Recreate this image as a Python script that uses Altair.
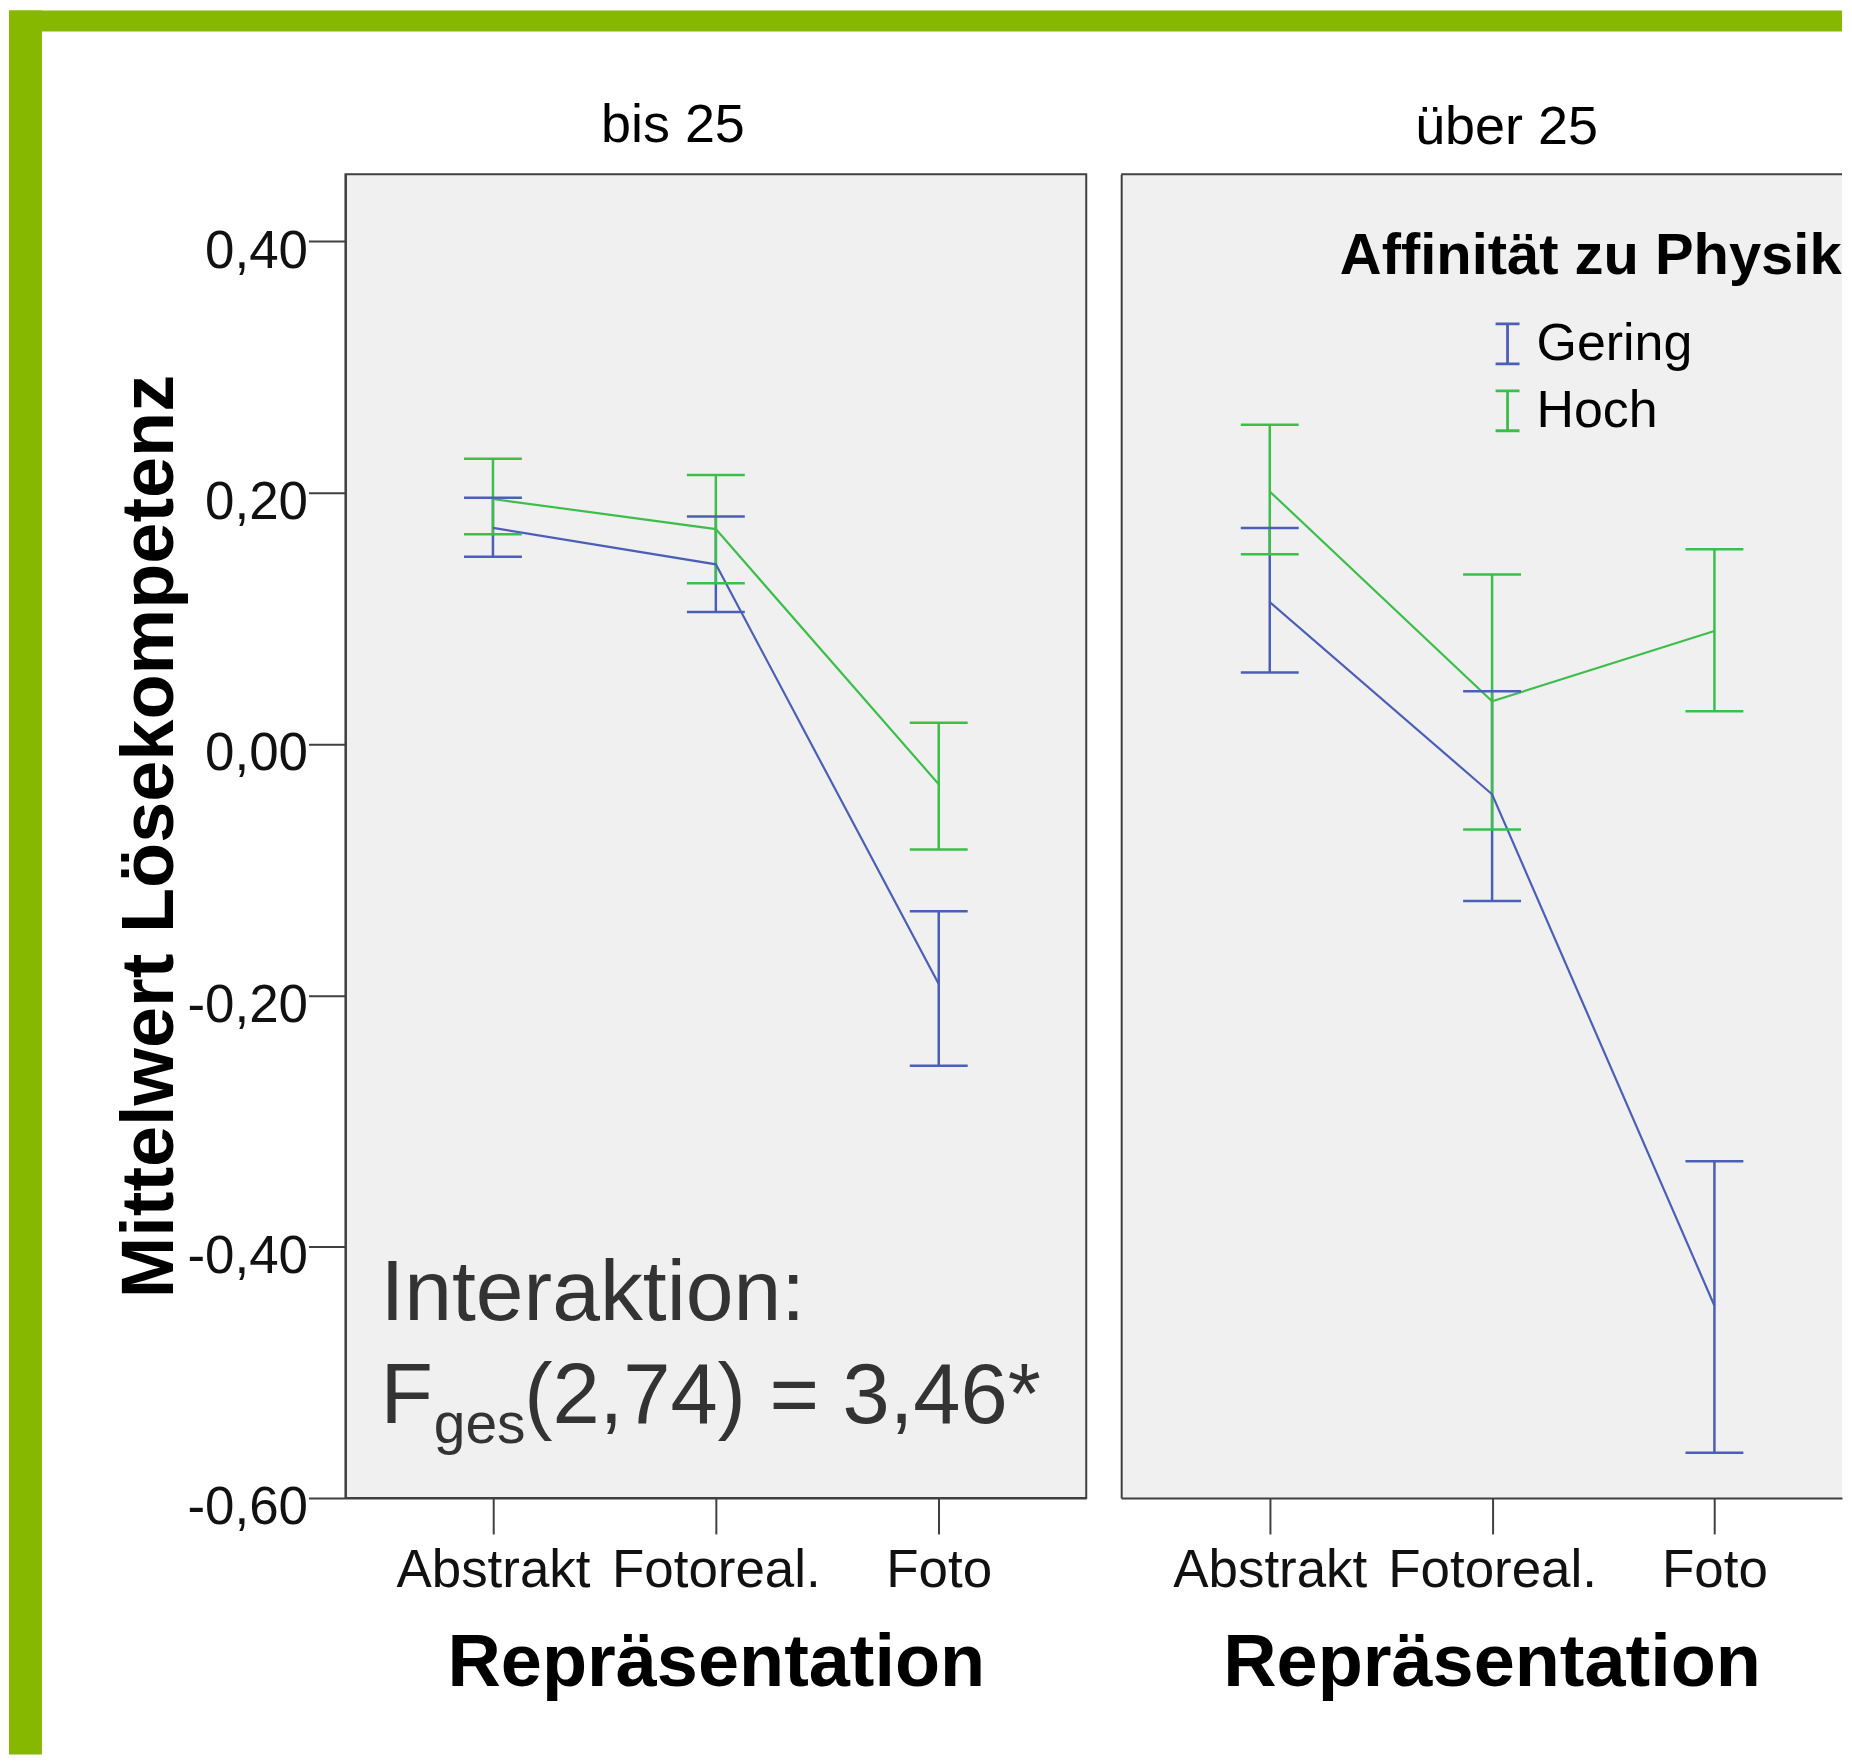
import altair as alt
import pandas as pd

# ---------------- data ----------------
CATEGORIES = ["Abstrakt", "Fotoreal.", "Foto"]
GROUPS = ["Gering", "Hoch"]
COLORS = ["#4A5FB5", "#3DBE4B"]

# Panel "bis 25"
BIS_GERING_MEAN = [0.172, 0.143, -0.191]
BIS_GERING_LO = [0.149, 0.105, -0.256]
BIS_GERING_HI = [0.196, 0.181, -0.133]
BIS_HOCH_MEAN = [0.195, 0.171, -0.032]
BIS_HOCH_LO = [0.167, 0.128, -0.084]
BIS_HOCH_HI = [0.227, 0.214, 0.017]

# Panel "über 25"
UEB_GERING_MEAN = [0.113, -0.040, -0.447]
UEB_GERING_LO = [0.057, -0.125, -0.564]
UEB_GERING_HI = [0.172, 0.042, -0.332]
UEB_HOCH_MEAN = [0.201, 0.034, 0.090]
UEB_HOCH_LO = [0.151, -0.068, 0.026]
UEB_HOCH_HI = [0.254, 0.135, 0.155]

Y_TICKS = [-0.6, -0.4, -0.2, 0.0, 0.2, 0.4]
Y_TICK_LABELS = ["-0,60", "-0,40", "-0,20", "0,00", "0,20", "0,40"]
Y_MIN, Y_MAX = -0.6, 0.4535

PANEL_TITLES = ["bis 25", "über 25"]
Y_TITLE = "Mittelwert Lösekompetenz"
X_TITLE = "Repräsentation"
LEGEND_TITLE = "Affinität zu Physik"
ANNOT_LINE1 = "Interaktion:"
ANNOT_F = "F"
ANNOT_SUB = "ges"
ANNOT_REST = "(2,74) = 3,46*"

FONT = "Liberation Sans"
GREEN = "#87B800"
FRAME = "#404040"


def build_df(gm, glo, ghi, hm, hlo, hhi):
    rows = []
    for grp, m, lo, hi in [("Gering", gm, glo, ghi), ("Hoch", hm, hlo, hhi)]:
        for c, a, b, d in zip(CATEGORIES, m, lo, hi):
            rows.append({"rep": c, "grp": grp, "mean": a, "lo": b, "hi": d})
    return pd.DataFrame(rows)


df_bis = build_df(BIS_GERING_MEAN, BIS_GERING_LO, BIS_GERING_HI,
                  BIS_HOCH_MEAN, BIS_HOCH_LO, BIS_HOCH_HI)
df_ueb = build_df(UEB_GERING_MEAN, UEB_GERING_LO, UEB_GERING_HI,
                  UEB_HOCH_MEAN, UEB_HOCH_LO, UEB_HOCH_HI)

label_expr = " : ".join(
    f"abs(datum.value - ({v})) < 0.001 ? '{l}'" for v, l in zip(Y_TICKS, Y_TICK_LABELS)
) + " : ''"

W_LEFT, W_RIGHT, H = 742, 722, 1326

y_scale = alt.Scale(domain=[Y_MIN, Y_MAX], nice=False, zero=False)
color_scale = alt.Scale(domain=GROUPS, range=COLORS)


def x_axis():
    return alt.Axis(
        labelAngle=0, labelFont=FONT, labelFontSize=53, labelColor="#111111",
        labelPadding=11, labelLimit=500, labelOverlap=False,
        tickSize=36, tickWidth=2, tickColor=FRAME,
        domainColor=FRAME, domainWidth=2, grid=False,
        title=X_TITLE, titleFont=FONT, titleFontSize=74, titleFontWeight="bold",
        titleColor="black", titleX=371, titleY=188, titleAlign="center",
        titleBaseline="alphabetic",
    )


def y_axis_left():
    return alt.Axis(
        values=Y_TICKS, labelExpr=label_expr, labelFont=FONT, labelFontSize=53,
        labelColor="#111111", labelPadding=1, labelOffset=10,
        tickSize=37, tickWidth=2, tickColor=FRAME,
        domainColor=FRAME, domainWidth=2, grid=False,
        title=Y_TITLE, titleFont=FONT, titleFontSize=74, titleFontWeight="bold",
        titleColor="black", titleAngle=270, titleX=-173, titleY=663,
        titleAlign="center", titleBaseline="alphabetic",
    )


def y_axis_right():
    return alt.Axis(labels=False, ticks=False, domain=True, domainColor=FRAME,
                    domainWidth=2, grid=False, title=None)


def color_enc(legend):
    if legend is None:
        return alt.Color("grp:N", scale=color_scale, legend=None)
    return alt.Color("grp:N", scale=color_scale, legend=legend)


def data_layers(df, xscale, yaxis, legend):
    xenc = alt.X("rep:N", sort=CATEGORIES, scale=xscale, axis=x_axis())
    base = alt.Chart(df)
    bars = base.mark_rule(strokeWidth=2.5).encode(
        x=xenc,
        y=alt.Y("lo:Q", scale=y_scale, axis=yaxis),
        y2="hi:Q",
        color=color_enc(legend),
    )
    line = base.mark_line(strokeWidth=2.2).encode(
        x=xenc,
        y=alt.Y("mean:Q", scale=y_scale, axis=yaxis),
        color=color_enc(legend),
    )
    cap_lo = base.mark_tick(size=58, thickness=2.5, opacity=1).encode(
        x=xenc,
        y=alt.Y("lo:Q", scale=y_scale, axis=yaxis),
        color=color_enc(legend),
    )
    cap_hi = base.mark_tick(size=58, thickness=2.5, opacity=1).encode(
        x=xenc,
        y=alt.Y("hi:Q", scale=y_scale, axis=yaxis),
        color=color_enc(legend),
    )
    return [bars, line, cap_lo, cap_hi]


def text_layer(txt, x, y, size, weight="normal", align="left", color="black"):
    return alt.Chart(pd.DataFrame({"t": [txt]})).mark_text(
        align=align, baseline="alphabetic", font=FONT, fontSize=size,
        fontWeight=weight, color=color,
    ).encode(text="t:N", x=alt.value(x), y=alt.value(y))


def deco_rect(x, x2, y, y2, color):
    return alt.Chart(pd.DataFrame({"k": [0]})).mark_rect(color=color).encode(
        x=alt.value(x), x2=alt.value(x2), y=alt.value(y), y2=alt.value(y2)
    )


# ---------------- left panel ----------------
x_scale_left = alt.Scale(type="point", domain=CATEGORIES, padding=0.6618)
left_layers = [
    deco_rect(-337, -304, -164, 1583, GREEN),
    deco_rect(-337, 1499, -164, -143, GREEN),
] + data_layers(df_bis, x_scale_left, y_axis_left(), None) + [
    text_layer(PANEL_TITLES[0], 328, -32, 54, align="center"),
    text_layer(ANNOT_LINE1, 35, 1148, 86, color="#333333"),
    text_layer(ANNOT_F, 35, 1251, 86, color="#333333"),
    text_layer(ANNOT_SUB, 88.5, 1271, 57, color="#333333"),
    text_layer(ANNOT_REST, 179, 1251, 85, color="#333333"),
]
left = alt.layer(*left_layers).properties(width=W_LEFT, height=H)

# ---------------- right panel ----------------
x_scale_right = alt.Scale(type="point", domain=CATEGORIES, padding=0.621, align=0.538)
legend = alt.Legend(
    orient="none", legendX=361, legendY=144, title=None, direction="vertical",
    labelFont=FONT, labelFontSize=52, labelColor="black", labelOffset=3,
    labelLimit=500, symbolType="M-0.6,-1H0.6M0,-1V1M-0.6,1H0.6", symbolSize=1600,
    symbolStrokeWidth=2.8, symbolFillColor="transparent", rowPadding=15, padding=0,
)
top_border = alt.Chart(pd.DataFrame({"k": [0]})).mark_rule(
    color=FRAME, strokeWidth=2
).encode(y=alt.datum(Y_MAX, scale=y_scale))
right_layers = [top_border] + data_layers(df_ueb, x_scale_right, y_axis_right(), legend) + [
    text_layer(PANEL_TITLES[1], 386, -30, 54, align="center"),
    text_layer(LEGEND_TITLE, 219, 100, 58, weight="bold"),
]
right = alt.layer(*right_layers).properties(
    width=W_RIGHT, height=H, view=alt.ViewBackground(stroke="transparent")
)

chart = alt.hconcat(left, right, spacing=35, bounds="flush").resolve_scale(
    x="independent", y="independent"
).resolve_legend(color="independent").properties(
    padding=0
).configure(font=FONT, background="white").configure_view(
    fill="#F0F0F0", stroke=FRAME, strokeWidth=2
)

chart.save("out.html", embed_options={"renderer": "svg", "actions": False})
